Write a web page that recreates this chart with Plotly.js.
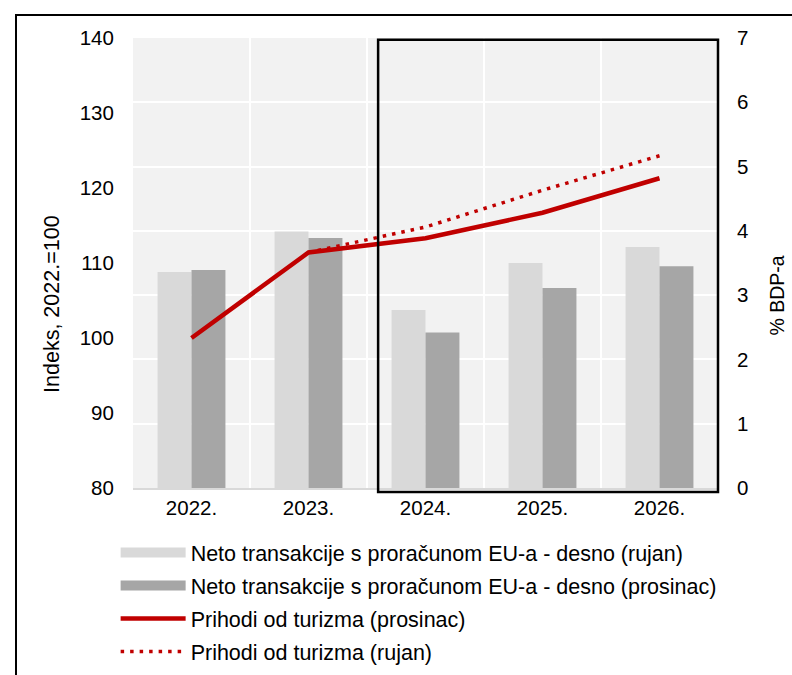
<!DOCTYPE html>
<html>
<head>
<meta charset="utf-8">
<script src="https://cdn.plot.ly/plotly-3.0.1.min.js"></script>
<style>
  html, body { margin: 0; padding: 0; background: #fff; }
  #wrap { position: relative; width: 792px; height: 675px; overflow: hidden; }
  #chart { position: absolute; left: 0; top: 0; width: 792px; height: 675px; }
  #frame { position: absolute; left: 15px; top: 14px; right: -10px; bottom: -10px;
           border-left: 2px solid #000; border-top: 2px solid #000; pointer-events: none; }
</style>
</head>
<body>
<div id="wrap">
  <div id="chart"></div>
  <div id="frame"></div>
</div>
<script>
// ---- data ----
const years = ["2022.", "2023.", "2024.", "2025.", "2026."];
const euRujan = [3.36, 3.99, 2.77, 3.50, 3.75];      // % BDP-a, right axis
const euProsinac = [3.39, 3.89, 2.42, 3.11, 3.45];   // % BDP-a, right axis
const turizamProsinac = [100, 111.4, 113.3, 116.7, 121.3]; // index, left axis
const turizamRujan = [null, 111.4, 114.8, 119.7, 124.3];   // index, left axis
const names = [
  "Neto transakcije s proračunom EU-a - desno (rujan)",
  "Neto transakcije s proračunom EU-a - desno (prosinac)",
  "Prihodi od turizma (prosinac)",
  "Prihodi od turizma (rujan)"
];
const leftTitle = "Indeks, 2022.=100";
const rightTitle = "% BDP-a";

const cLight = "#d9d9d9", cDark = "#a6a6a6", cRed = "#c00000";
const fam = "Liberation Sans, Arial, sans-serif";
const tickFont = { family: fam, size: 20.5, color: "#000" };
const legFont = { family: fam, size: 21.5, color: "#000" };
const titleFont = { family: fam, size: 21.5, color: "#000" };
const titleFontR = { family: fam, size: 19.5, color: "#000" };

const traces = [
  { type: "bar", x: years, y: euRujan, name: names[0], marker: { color: cLight },
    yaxis: "y", showlegend: false },
  { type: "bar", x: years, y: euProsinac, name: names[1], marker: { color: cDark },
    yaxis: "y", showlegend: false },
  // legend-only swatches for the bars
  { type: "scatter", mode: "lines", x: [null], y: [null], name: names[0], yaxis: "y",
    line: { color: cLight, width: 11 }, legendgroup: "a" },
  { type: "scatter", mode: "lines", x: [null], y: [null], name: names[1], yaxis: "y",
    line: { color: cDark, width: 11 }, legendgroup: "b" },
  { type: "scatter", mode: "lines", x: years, y: turizamProsinac, name: names[2], yaxis: "y2",
    line: { color: cRed, width: 4.5 }, legendgroup: "c" },
  { type: "scatter", mode: "lines", x: years, y: turizamRujan, name: names[3], yaxis: "y2",
    line: { color: cRed, width: 3.5, dash: "3.5px,6px" }, legendgroup: "d" }
];

const layout = {
  width: 792, height: 675,
  margin: { l: 133, r: 74, t: 38, b: 187, autoexpand: false },
  paper_bgcolor: "#ffffff",
  plot_bgcolor: "#f2f2f2",
  font: tickFont,
  barmode: "group",
  bargap: 0.42,
  bargroupgap: 0,
  showlegend: true,
  legend: {
    x: -0.0297, xanchor: "left", y: -0.098, yanchor: "top",
    orientation: "v", font: legFont, tracegroupgap: 2,
    itemwidth: 65, bgcolor: "rgba(0,0,0,0)"
  },
  xaxis: {
    type: "category", tickson: "boundaries",
    showgrid: true, gridcolor: "#ffffff", gridwidth: 2,
    showline: true, linecolor: "#d9d9d9", linewidth: 2,
    ticks: "outside", ticklen: 9, tickcolor: "rgba(0,0,0,0)",
    tickfont: tickFont, fixedrange: true
  },
  yaxis: {
    side: "right", range: [0, 7], dtick: 1,
    showgrid: true, gridcolor: "#ffffff", gridwidth: 2, zeroline: false,
    ticks: "outside", ticklen: 14, tickcolor: "rgba(0,0,0,0)",
    tickfont: tickFont
  },
  yaxis2: {
    overlaying: "y", side: "left", range: [80, 140], dtick: 10,
    showgrid: false, zeroline: false,
    ticks: "outside", ticklen: 14, tickcolor: "rgba(0,0,0,0)",
    tickfont: tickFont
  },
  annotations: [
    { text: leftTitle, xref: "paper", yref: "paper", x: -0.1385, y: 0.409,
      xanchor: "center", yanchor: "middle", textangle: -90, showarrow: false, font: titleFont },
    { text: rightTitle, xref: "paper", yref: "paper", x: 1.1, y: 0.4267,
      xanchor: "center", yanchor: "middle", textangle: -90, showarrow: false, font: titleFontR }
  ],
  shapes: [
    { type: "rect", xref: "paper", yref: "paper", x0: 0.419, x1: 1.0, y0: -0.009, y1: 0.996,
      line: { color: "#000", width: 2.5 }, fillcolor: "rgba(0,0,0,0)", layer: "above" }
  ]
};

Plotly.newPlot("chart", traces, layout, { displayModeBar: false, staticPlot: true });
</script>
</body>
</html>
